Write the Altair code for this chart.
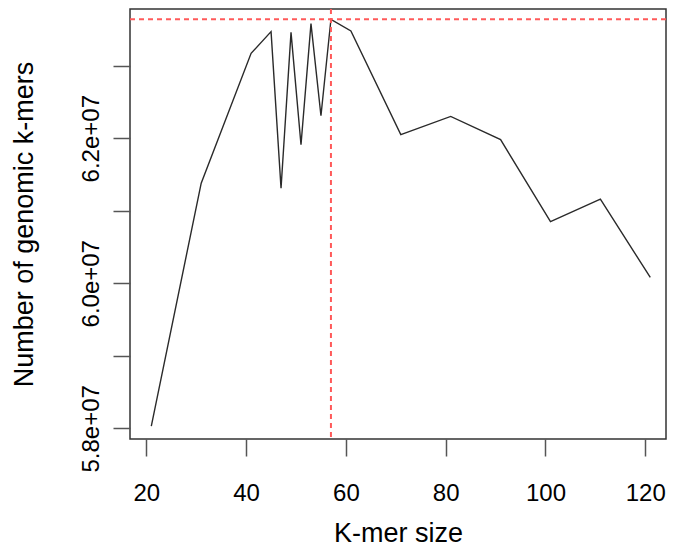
import altair as alt
import pandas as pd

# K-mer sizes and number of genomic k-mers
kmer_sizes = [21, 31, 41, 45, 47, 49, 51, 53, 55, 57, 61, 71, 81, 91, 101, 111, 121]
genomic_kmers = [58.03e6, 61.38e6, 63.17e6, 63.47e6, 61.31e6, 63.46e6, 61.91e6,
                 63.58e6, 62.31e6, 63.64e6, 63.48e6, 62.05e6, 62.30e6, 61.98e6,
                 60.85e6, 61.16e6, 60.08e6]
best_k = [57]
best_n = [63.64e6]

x_ticks = [20, 40, 60, 80, 100, 120]
y_ticks = [58000000, 59000000, 60000000, 61000000, 62000000, 63000000]

df = pd.DataFrame({"k": kmer_sizes, "n": genomic_kmers})

xscale = alt.Scale(domain=[16.73, 124.15], nice=False, zero=False)
yscale = alt.Scale(domain=[57852500, 63781800], nice=False, zero=False)

font = "Liberation Sans"

x_axis = alt.Axis(
    values=x_ticks, title="K-mer size", domain=False, grid=False,
    tickSize=17, tickColor="#555555", tickWidth=1.5,
    labelFontSize=24, labelFont=font, labelColor="#000000", labelPadding=25,
    labelFlush=False, labelOverlap=False,
    titleFontSize=27, titleFont=font, titleFontWeight="normal", titleColor="#000000",
    titleBaseline="alphabetic", titleY=102,
)

y_axis = alt.Axis(
    values=y_ticks, title="Number of genomic k-mers", domain=False, grid=False,
    tickSize=17, tickColor="#555555", tickWidth=1.5,
    labelExpr="datum.value == 58000000 ? '5.8e+07' : datum.value == 60000000 ? '6.0e+07' : datum.value == 62000000 ? '6.2e+07' : ''",
    labelFontSize=24, labelFont=font, labelColor="#000000", labelPadding=15,
    labelAngle=270, labelAlign="center", labelBaseline="alphabetic",
    labelFlush=False, labelOverlap=False,
    titleFontSize=27, titleFont=font, titleFontWeight="normal", titleColor="#000000",
    titleAngle=270, titleAlign="center", titleBaseline="alphabetic",
    titleX=-98, titleY=215,
)

line = alt.Chart(df).mark_line(color="#2a2a2a", strokeWidth=1.4).encode(
    x=alt.X("k:Q", scale=xscale, axis=x_axis),
    y=alt.Y("n:Q", scale=yscale, axis=y_axis),
)

red = "#ff5a5a"
vrule = alt.Chart(pd.DataFrame({"k": best_k})).mark_rule(
    color=red, strokeDash=[5, 4], strokeWidth=2
).encode(x=alt.X("k:Q", scale=xscale, axis=x_axis))

hrule = alt.Chart(pd.DataFrame({"n": best_n})).mark_rule(
    color=red, strokeDash=[5, 4], strokeWidth=2
).encode(y=alt.Y("n:Q", scale=yscale, axis=y_axis))

chart = alt.layer(line, vrule, hrule).properties(
    width=536, height=430,
    autosize=alt.AutoSizeParams(type="none"),
    padding={"left": 122, "top": 1, "right": 1, "bottom": 109},
    background="white",
).configure_view(stroke="#333333", strokeWidth=1.5)

chart.save("out.html", embed_options={"renderer": "svg", "actions": False})
